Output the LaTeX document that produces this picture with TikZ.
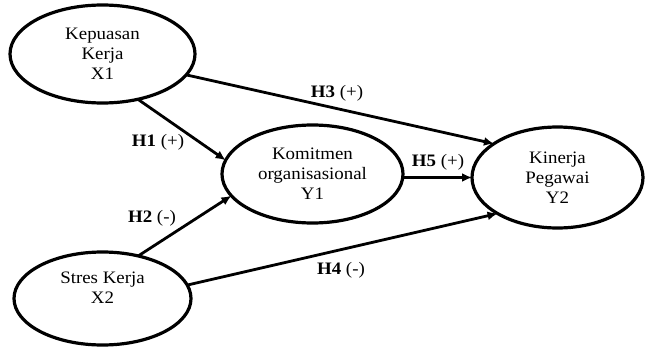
\documentclass[tikz,border=0pt]{standalone}
\usepackage{fontspec}
\setmainfont{Liberation Serif}[FakeStretch=1.08]
\usetikzlibrary{shapes.geometric,arrows.meta}
\begin{document}
\begin{tikzpicture}[x=1pt,y=-1pt,
  txt/.style={align=center, inner sep=0pt, font=\fontsize{17.5}{19.8}\selectfont},
  var/.style={ellipse, draw, line width=3.2pt, inner sep=0pt, outer sep=0pt, txt},
  link/.style={line width=2.8pt, -{Latex[length=10pt,width=9pt]}},
  hyp/.style={font=\fontsize{17.5}{19.8}\selectfont, inner sep=1pt}]
\useasboundingbox (0,0) rectangle (646,348);
\node[var, minimum width=185pt, minimum height=98pt] (X1) at (102.5,54) {Kepuasan\\Kerja\\X1};
\node[var, minimum width=181pt, minimum height=98pt] (Y1) at (312.5,174) {Komitmen\\organisasional\\Y1};
\node[var, minimum width=171pt, minimum height=101pt] (Y2) at (557.5,177.5) {Kinerja\\Pegawai\\Y2};
\node[var, minimum width=177pt, minimum height=93pt] (X2) at (102.5,298.5) {};
\node[txt] (X2t) at (102.5,288) {Stres Kerja\\X2};

\draw[link] (X1.-14) -- (Y2.152);
\draw[link] (X1.-52) -- (Y1.171);
\draw[link] (X2.50) -- (Y1.195);
\draw[link] (X2.9) -- (Y2.211);
\draw[link] (Y2.west -| Y1.east) -- (Y2.west);

\node[hyp] (h3) at (337,93) {\textbf{H3} (+)};
\node[hyp] (h1) at (158,142) {\textbf{H1} (+)};
\node[hyp] (h2) at (152,218) {\textbf{H2} (-)};
\node[hyp] (h4) at (341,270) {\textbf{H4} (-)};
\node[hyp] (h5) at (438,162) {\textbf{H5} (+)};
\end{tikzpicture}
\end{document}
